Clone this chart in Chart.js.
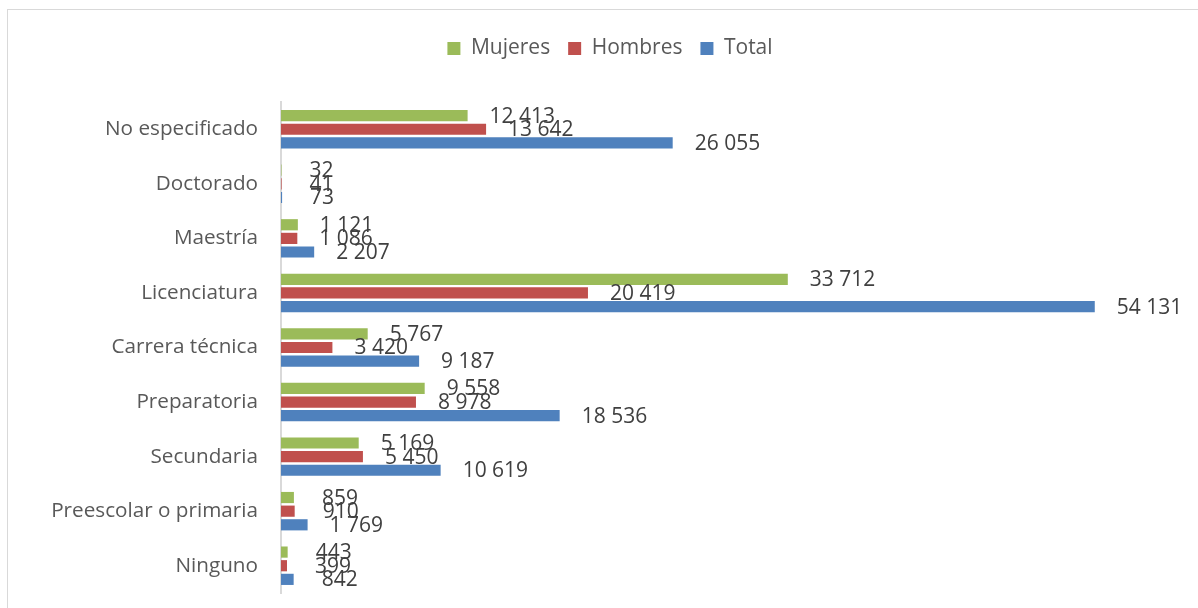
<!DOCTYPE html>
<html>
<head>
<meta charset="utf-8">
<script src="https://cdn.jsdelivr.net/npm/chart.js@4.4.0/dist/chart.umd.min.js"></script>
<style>
  html, body { margin: 0; padding: 0; background: #fff; overflow: hidden; }
  #frame { position: absolute; left: 7px; top: 9px; width: 1300px; height: 700px; border: 1px solid #d9d9d9; }
  #chart { position: absolute; left: 0; top: 0; }
</style>
</head>
<body>
<div id="frame"></div>
<canvas id="chart" width="1198" height="608"></canvas>
<script>
const categories = ['No especificado', 'Doctorado', 'Maestría', 'Licenciatura', 'Carrera técnica',
  'Preparatoria', 'Secundaria', 'Preescolar o primaria', 'Ninguno'];
const mujeres = [12413, 32, 1121, 33712, 5767, 9558, 5169, 859, 443];
const hombres = [13642, 41, 1086, 20419, 3420, 8978, 5450, 910, 399];
const total = [26055, 73, 2207, 54131, 9187, 18536, 10619, 1769, 842];

const FONT = '"Open Sans", sans-serif';

// 12413 -> "12 413"
const fmt = v => String(v).replace(/\B(?=(\d{3})+(?!\d))/g, ' ');

const valueLabels = {
  id: 'valueLabels',
  afterDatasetsDraw(chart) {
    const ctx = chart.ctx;
    ctx.save();
    ctx.font = '21px ' + FONT;
    ctx.fillStyle = '#404040';
    ctx.textAlign = 'left';
    ctx.textBaseline = 'middle';
    chart.data.datasets.forEach((ds, i) => {
      chart.getDatasetMeta(i).data.forEach((bar, j) => {
        const v = ds.data[j];
        ctx.fillText(fmt(v), bar.x + (v < 1000 ? 28 : 22), bar.y + 1);
      });
    });
    ctx.restore();
  }
};

// make the legend box taller so the plot starts lower
const legendHeight = {
  id: 'legendHeight',
  beforeLayout(chart) {
    const lg = chart.legend;
    if (lg && !lg._tall) {
      const fit = lg.fit;
      lg.fit = function () { fit.call(this); this.height = 82; };
      lg._tall = true;
    }
  }
};

new Chart(document.getElementById('chart'), {
  type: 'bar',
  data: {
    labels: categories,
    datasets: [
      { label: 'Mujeres', data: mujeres, backgroundColor: '#9BBB59' },
      { label: 'Hombres', data: hombres, backgroundColor: '#C0504D' },
      { label: 'Total', data: total, backgroundColor: '#4F81BD' },
    ],
  },
  options: {
    indexAxis: 'y',
    responsive: false,
    animation: false,
    categoryPercentage: 0.75,
    barPercentage: 0.82,
    layout: { padding: { left: 37, right: 15, top: 20, bottom: 15 } },
    plugins: {
      tooltip: { enabled: false },
      legend: {
        position: 'top',
        labels: {
          boxWidth: 13,
          boxHeight: 13,
          padding: 18,
          color: '#595959',
          font: { family: FONT, size: 21 },
        },
      },
    },
    scales: {
      x: { display: false, min: 0, max: 60000 },
      y: {
        grid: { display: false, drawTicks: false },
        border: { display: true, color: '#d9d9d9', width: 2 },
        ticks: { color: '#595959', padding: 23, font: { family: FONT, size: 20.7 } },
        afterFit(scale) {
          scale.width = 244;
          scale.paddingTop = 0;
          scale.paddingBottom = 0;
        },
      },
    },
  },
  plugins: [valueLabels, legendHeight],
});
</script>
</body>
</html>
